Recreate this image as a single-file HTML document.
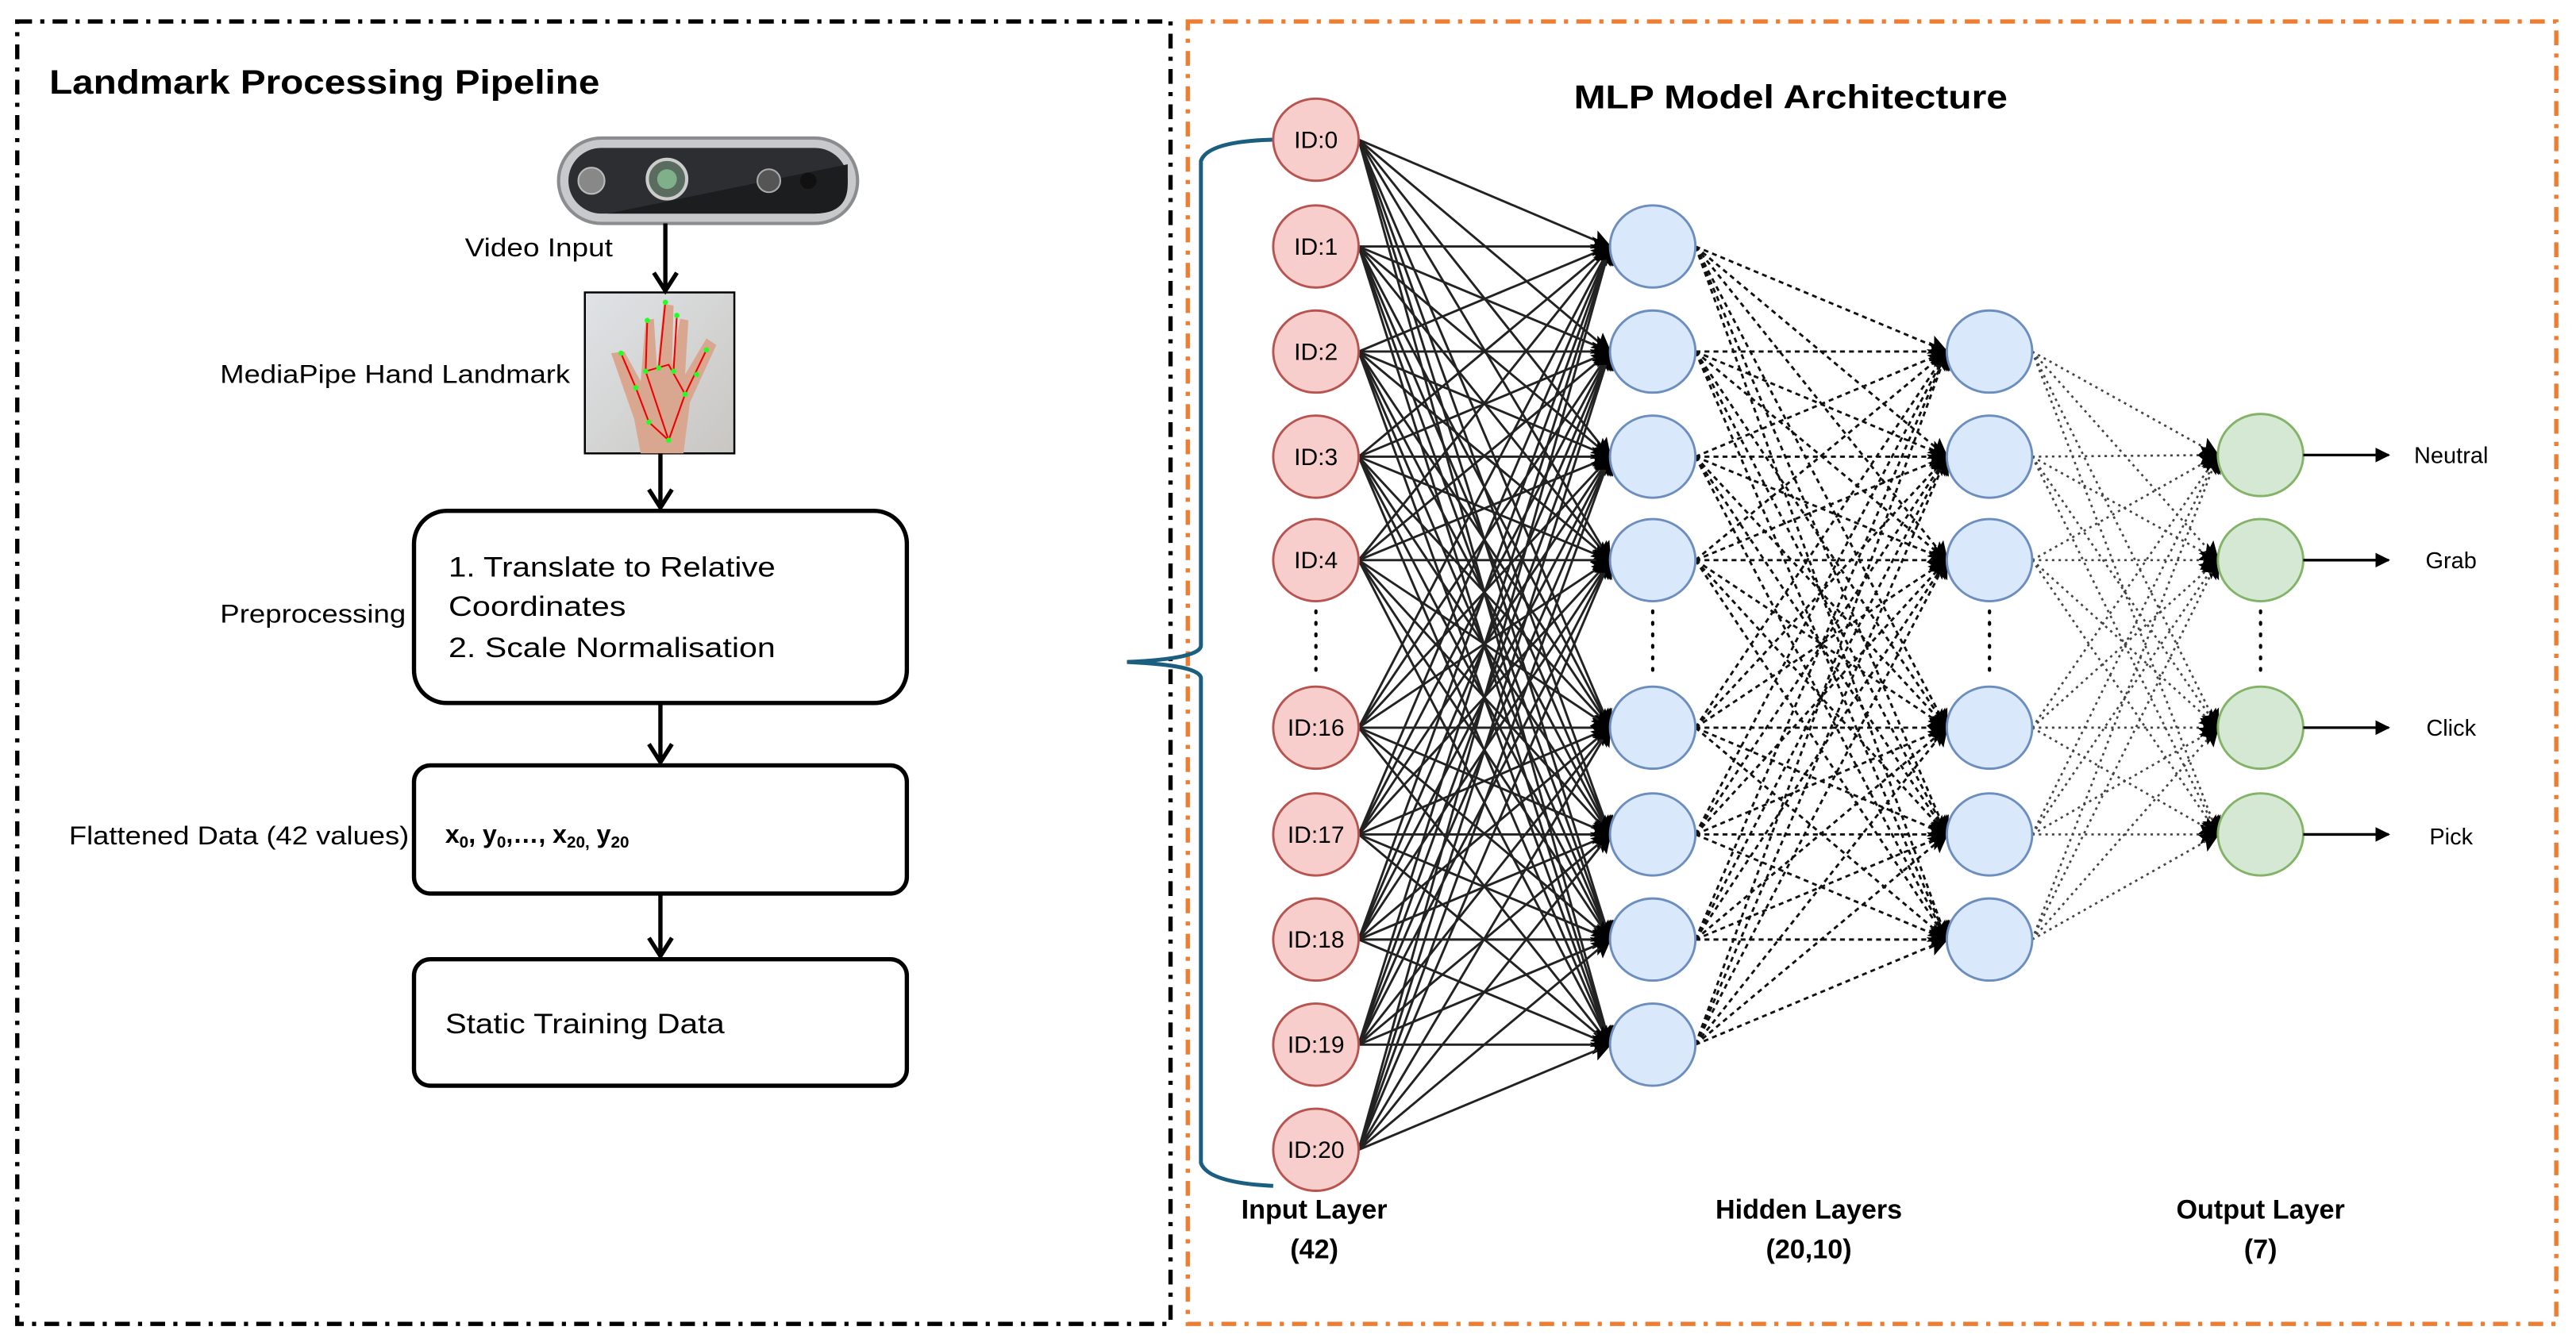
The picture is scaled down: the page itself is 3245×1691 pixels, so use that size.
<!DOCTYPE html>
<html><head><meta charset="utf-8"><style>
html,body{margin:0;padding:0;background:#fff;}
svg{display:block;}
text{font-family:"Liberation Sans",sans-serif;}
</style></head><body>
<svg id="s" width="3245" height="1691" viewBox="0 0 1568 817" xmlns="http://www.w3.org/2000/svg">
<defs>
<marker id="ah" viewBox="0 0 10 10" refX="9" refY="5" markerWidth="9" markerHeight="9" orient="auto" markerUnits="userSpaceOnUse"><path d="M0,0 L10,5 L0,10 Z" fill="#000"/></marker>
<marker id="ah2" viewBox="0 0 10 10" refX="9" refY="5" markerWidth="12" markerHeight="12" orient="auto" markerUnits="userSpaceOnUse"><path d="M0,0 L10,5 L0,10 L2,5 Z" fill="#000"/></marker>
<linearGradient id="hg" x1="0" y1="0" x2="1" y2="1"><stop offset="0" stop-color="#dfe3e6"/><stop offset="1" stop-color="#c9c6c2"/></linearGradient>
</defs>
<rect width="1568" height="817" fill="#fff"/>
<rect x="10.5" y="13" width="702" height="793" fill="none" stroke="#000" stroke-width="2.6" stroke-dasharray="9,5,2.5,5"/>
<rect x="723" y="13" width="833" height="793" fill="none" stroke="#ed7d31" stroke-width="2.6" stroke-dasharray="9,5,2.5,5"/>

<text x="30" y="57" font-size="20.5" font-weight="bold" textLength="335" lengthAdjust="spacingAndGlyphs">Landmark Processing Pipeline</text>
<rect x="340" y="84" width="182" height="52" rx="26" fill="#c8c9cb" stroke="#8b8c8f" stroke-width="2"/>
<rect x="346" y="90" width="170" height="40" rx="20" fill="#2c2e31"/>
<path d="M370,130 L516,100 L516,112 Q516,130 496,130 Z" fill="#1c1d1f"/>
<circle cx="360" cy="110" r="8" fill="#888" stroke="#bbb"/>
<circle cx="406" cy="109" r="12" fill="#5a6b60" stroke="#ccc" stroke-width="2"/>
<circle cx="406" cy="109" r="6" fill="#7fb08a"/>
<circle cx="468" cy="110" r="7" fill="#555" stroke="#aaa"/>
<circle cx="492" cy="110" r="5" fill="#111"/>
<text x="283" y="156" font-size="15.5" textLength="90" lengthAdjust="spacingAndGlyphs">Video Input</text>
<rect x="356" y="178" width="91" height="98" fill="url(#hg)" stroke="#000" stroke-width="1.2"/>
<path d="M390,276 L386,255 L372,215 L380,214 L390,232 L393,195 L398,194 L400,225 L404,185 L410,186 L409,222 L414,194 L419,195 L417,228 L430,206 L436,210 L420,245 L416,276 Z" fill="#d9a78f"/>
<g stroke="#e00" stroke-width="1" fill="none"><path d="M407,268 L395,257 L387,236 L378,215 M407,268 L417,240 L430,213 M393,226 L407,222 L417,240 M393,226 L394,195 M401,224 L405,184 M410,226 L412,192 M393,226 L407,268"/></g>
<g fill="#2f2"><circle cx="407" cy="268" r="1.6"/><circle cx="395" cy="257" r="1.6"/><circle cx="387" cy="236" r="1.6"/><circle cx="378" cy="215" r="1.6"/><circle cx="417" cy="240" r="1.6"/><circle cx="430" cy="213" r="1.6"/><circle cx="393" cy="226" r="1.6"/><circle cx="394" cy="195" r="1.6"/><circle cx="405" cy="184" r="1.6"/><circle cx="412" cy="192" r="1.6"/><circle cx="401" cy="224" r="1.6"/><circle cx="410" cy="226" r="1.6"/><circle cx="424" cy="228" r="1.6"/></g>
<text x="134" y="233" font-size="15.5" textLength="213" lengthAdjust="spacingAndGlyphs">MediaPipe Hand Landmark</text>
<g stroke="#000" stroke-width="2.6" fill="none">
<line x1="405" y1="136" x2="405" y2="176"/><path d="M398,166 L405,177 L412,166"/>
<line x1="402" y1="276" x2="402" y2="309"/><path d="M395,298 L402,309 L409,298"/>
<line x1="402" y1="428" x2="402" y2="464"/><path d="M395,453 L402,464 L409,453"/>
<line x1="402" y1="544" x2="402" y2="582"/><path d="M395,571 L402,582 L409,571"/>
</g>
<g fill="#fff" stroke="#000" stroke-width="2.6">
<rect x="252" y="311" width="300" height="117" rx="20"/>
<rect x="252" y="466" width="300" height="78" rx="10"/>
<rect x="252" y="584" width="300" height="77" rx="10"/>
</g>
<g font-size="17">
<text x="273" y="351" textLength="199" lengthAdjust="spacingAndGlyphs">1. Translate to Relative</text>
<text x="273" y="375" textLength="108" lengthAdjust="spacingAndGlyphs">Coordinates</text>
<text x="273" y="400" textLength="199" lengthAdjust="spacingAndGlyphs">2. Scale Normalisation</text>
<text x="271" y="629" textLength="170" lengthAdjust="spacingAndGlyphs">Static Training Data</text>
</g>
<text x="271" y="513" font-size="15.5" font-weight="bold">x<tspan font-size="10" dy="3">0</tspan><tspan dy="-3">, y</tspan><tspan font-size="10" dy="3">0</tspan><tspan dy="-3">,…, x</tspan><tspan font-size="10" dy="3">20,</tspan><tspan dy="-3"> y</tspan><tspan font-size="10" dy="3">20</tspan></text>
<text x="134" y="379" font-size="15.5" textLength="113" lengthAdjust="spacingAndGlyphs">Preprocessing</text>
<text x="42" y="514" font-size="15.5" textLength="207" lengthAdjust="spacingAndGlyphs">Flattened Data (42 values)</text>

<text x="958" y="66" font-size="20" font-weight="bold" textLength="264" lengthAdjust="spacingAndGlyphs">MLP Model Architecture</text>
<path d="M775,85 Q735,86 731,98 L731,393 Q731,401 686,403 Q731,405 731,413 L731,708 Q735,720 775,722" fill="none" stroke="#1a5e80" stroke-width="2.4"/>
<g id="edges"></g>
<g id="nodes"></g>
<g font-size="16.5" font-weight="bold" text-anchor="middle">
<text x="800" y="742">Input Layer</text><text x="800" y="766">(42)</text>
<text x="1101" y="742">Hidden Layers</text><text x="1101" y="766">(20,10)</text>
<text x="1376" y="742">Output Layer</text><text x="1376" y="766">(7)</text>
</g>
<g font-size="14" text-anchor="middle">
<text x="1492" y="282">Neutral</text><text x="1492" y="346">Grab</text><text x="1492" y="448">Click</text><text x="1492" y="514">Pick</text>
</g>
<g stroke="#000" stroke-width="1.6">
<line x1="1402" y1="277" x2="1454" y2="277" marker-end="url(#ah)"/>
<line x1="1402" y1="341" x2="1454" y2="341" marker-end="url(#ah)"/>
<line x1="1402" y1="443" x2="1454" y2="443" marker-end="url(#ah)"/>
<line x1="1402" y1="508" x2="1454" y2="508" marker-end="url(#ah)"/>
</g>
<g stroke="#000" stroke-width="2" stroke-dasharray="1,6" stroke-linecap="round">
<line x1="801" y1="372" x2="801" y2="414"/><line x1="1006" y1="372" x2="1006" y2="414"/><line x1="1211" y1="372" x2="1211" y2="414"/><line x1="1376" y1="372" x2="1376" y2="414"/>
</g>
</svg>
<script>
(function(){
var NS="http://www.w3.org/2000/svg";
var L=[
 {x:801,r:26,ys:[85,150,214,278,341,443,508,572,636,700],f:"#f8cecc",s:"#b85450",lab:["ID:0","ID:1","ID:2","ID:3","ID:4","ID:16","ID:17","ID:18","ID:19","ID:20"]},
 {x:1006,r:26,ys:[150,214,278,341,443,508,572,636],f:"#dae8fc",s:"#6c8ebf"},
 {x:1211,r:26,ys:[214,278,341,443,508,572],f:"#dae8fc",s:"#6c8ebf"},
 {x:1376,r:26,ys:[277,341,443,508],f:"#d5e8d4",s:"#82b366"}];
var E=document.getElementById("edges"),N=document.getElementById("nodes");
var styles=[{d:"",w:1.4,c:"#222"},{d:"3,2.5",w:1.4,c:"#111"},{d:"1.5,2.5",w:1.3,c:"#444"}];
for(var k=0;k<3;k++){var A=L[k],B=L[k+1],st=styles[k];
 for(var i=0;i<A.ys.length;i++)for(var j=0;j<B.ys.length;j++){
  var l=document.createElementNS(NS,"line");
  l.setAttribute("x1",A.x+A.r);l.setAttribute("y1",A.ys[i]);
  l.setAttribute("x2",B.x-B.r);l.setAttribute("y2",B.ys[j]);
  l.setAttribute("stroke",st.c);l.setAttribute("stroke-width",st.w);
  if(st.d)l.setAttribute("stroke-dasharray",st.d);
  l.setAttribute("marker-end","url(#ah2)");E.appendChild(l);}}
L.forEach(function(A){A.ys.forEach(function(y,i){
 var e=document.createElementNS(NS,"ellipse");
 e.setAttribute("cx",A.x);e.setAttribute("cy",y);e.setAttribute("rx",A.r);e.setAttribute("ry",25);
 e.setAttribute("fill",A.f);e.setAttribute("stroke",A.s);e.setAttribute("stroke-width",1.4);N.appendChild(e);
 if(A.lab){var t=document.createElementNS(NS,"text");t.setAttribute("x",A.x);t.setAttribute("y",y+5);
  t.setAttribute("font-size","14.5");t.setAttribute("text-anchor","middle");t.textContent=A.lab[i];N.appendChild(t);}
});});
})();
</script>
</body></html>
